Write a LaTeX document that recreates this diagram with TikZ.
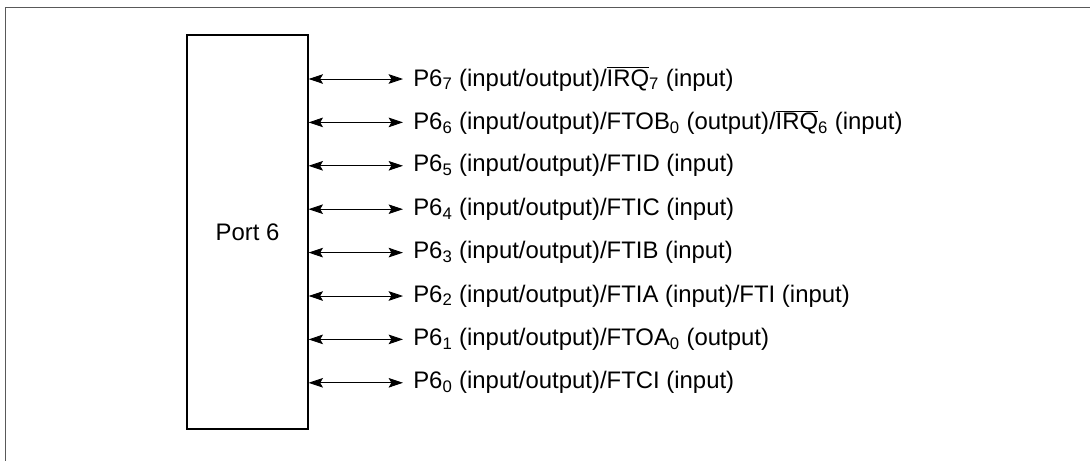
\documentclass[tikz,border=0pt]{standalone}
\usepackage{fontspec}
\setmainfont{Liberation Sans}
\usetikzlibrary{arrows.meta,positioning}

\newcommand{\ovl}[1]{$\overline{\hbox{#1}}$}

\tikzset{
  port/.style ={draw=black, thick, inner sep=0pt,
    minimum width=3.025cm, minimum height=9.85cm, font=\fontsize{17}{20}\selectfont},
  pin/.style  ={anchor=west, inner sep=0pt, font=\fontsize{17}{20}\selectfont},
  bus/.style  ={{Stealth[length=3.6mm,width=2.4mm,inset=0.7mm]}-{Stealth[length=3.6mm,width=2.4mm,inset=0.7mm]}, semithick},
}

\begin{document}
\begin{tikzpicture}[x=0.025cm, y=-0.025cm]
  \useasboundingbox (0,0) rectangle (1090,461);
  % frame
  \draw[gray!70!black, semithick] (1090,7) -- (5,7) -- (5,461);
  \node[port] (port) at (247.5,232) {Port 6};
  \node[pin] (p7) at (413,79)    {P6\textsubscript{7} (input/output)/\ovl{IRQ}\textsubscript{7} (input)};
  \node[pin] (p6) at (413,122.4) {P6\textsubscript{6} (input/output)/FTOB\textsubscript{0} (output)/\ovl{IRQ}\textsubscript{6} (input)};
  \node[pin] (p5) at (413,165.8) {P6\textsubscript{5} (input/output)/FTID (input)};
  \node[pin] (p4) at (413,209.2) {P6\textsubscript{4} (input/output)/FTIC (input)};
  \node[pin] (p3) at (413,252.6) {P6\textsubscript{3} (input/output)/FTIB (input)};
  \node[pin] (p2) at (413,296)   {P6\textsubscript{2} (input/output)/FTIA (input)/FTI (input)};
  \node[pin] (p1) at (413,339.4) {P6\textsubscript{1} (input/output)/FTOA\textsubscript{0} (output)};
  \node[pin] (p0) at (413,382.8) {P6\textsubscript{0} (input/output)/FTCI (input)};
  \foreach \p in {p7,p6,p5,p4,p3,p2,p1,p0}
    \draw[bus] (port.east |- \p.west) -- ([xshift=-0.25cm]\p.west);
\end{tikzpicture}
\end{document}
